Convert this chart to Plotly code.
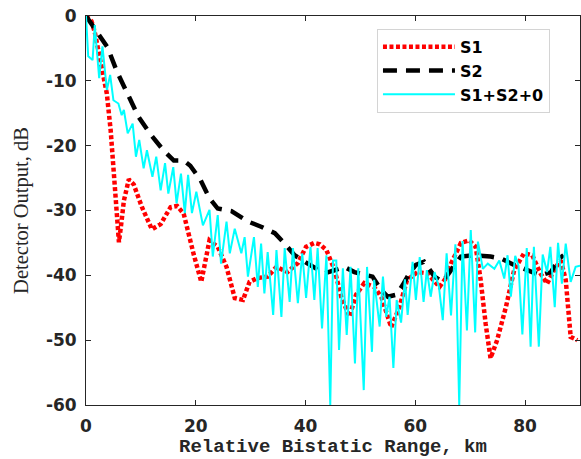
import plotly.graph_objects as go

# Relative bistatic range (km) and detector output (dB) for each signal
s1_range = [0, 1.0, 1.6, 2.4, 3.2, 3.8, 4.5, 5.1, 5.6, 6.0, 6.5, 6.9, 7.8, 8.7,
            10.2, 12.0, 13.6, 15.4, 16.6, 17.8, 19.6, 21.0, 22.5, 24.0, 25.6,
            27.1, 28.6, 29.8, 31.3, 33.1, 34.7, 36.7, 38.6, 40.1, 41.6, 42.6,
            43.8, 45.3, 46.5, 48.0, 49.2, 50.7, 52.5, 53.8, 55.6, 57.1, 58.5,
            60.4, 62.2, 64.4, 65.5, 66.5, 68.3, 69.8, 71.0, 71.9, 72.8, 73.7,
            74.9, 76.5, 78.0, 79.8, 81.3, 82.8, 84.0, 85.6, 86.5, 87.4, 88.3, 89.5]
s1_db = [0, -0.8, -2.5, -5.9, -9.0, -12.0, -17.7, -25.4, -31.0, -34.9, -31.5,
         -28.5, -25.2, -26.0, -29.5, -32.9, -32.1, -29.5, -29.3, -30.5, -36.7,
         -41.0, -34.6, -35.6, -38.7, -43.5, -43.8, -41.0, -40.4, -40.2, -38.7,
         -39.5, -38.1, -35.6, -35.0, -35.2, -36.1, -39.2, -43.3, -46.4, -43.0,
         -41.2, -41.8, -43.3, -48.0, -44.9, -40.7, -39.5, -39.7, -41.8, -40.5,
         -38.2, -35.0, -34.6, -35.6, -40.7, -47.4, -52.8, -50.0, -44.9, -39.2,
         -36.6, -36.9, -39.7, -41.3, -38.7, -37.7, -40.7, -49.5, -50.0]

s2_range = [0, 2.0, 3.9, 5.7, 7.5, 9.6, 11.7, 14.2, 16.0, 17.8, 19.0, 20.8,
            22.5, 24.0, 26.5, 29.5, 31.9, 34.4, 36.2, 38.0, 40.4, 43.5, 47.1,
            48.9, 52.2, 53.8, 55.0, 56.5, 57.7, 58.9, 60.1, 61.6, 63.5, 65.0,
            66.5, 68.3, 70.7, 73.7, 75.6, 78.0, 80.4, 82.8, 84.7, 86.2, 87.0]
s2_db = [0, -2.5, -4.8, -8.7, -12.0, -15.6, -18.2, -20.8, -22.3, -22.3, -23.1,
         -25.2, -28.1, -29.7, -30.1, -31.7, -32.5, -33.5, -35.1, -36.9, -38.2,
         -39.7, -38.7, -39.5, -40.2, -42.3, -43.3, -43.0, -41.5, -39.7, -38.4,
         -37.9, -40.2, -41.0, -39.2, -37.1, -36.9, -37.1, -37.4, -38.4, -39.2,
         -40.0, -39.5, -37.4, -36.9]

sum_range = [0, 0.4, 1.2, 1.6, 2.4, 3.0, 3.8, 4.4, 5.0, 5.9, 6.5, 6.9, 7.6, 8.5,
             9.1, 9.7, 10.5, 11.1, 12.1, 12.8, 13.6, 14.4, 15.0, 15.9, 16.5,
             17.3, 18.0, 18.6, 19.3, 20.1, 21.3, 22.5, 23.1, 24.0, 24.6, 25.6,
             26.2, 27.1, 28.3, 28.9, 29.5, 30.6, 31.3, 31.9, 32.5, 33.1, 34.1,
             34.7, 35.6, 36.2, 37.1, 37.7, 38.6, 39.4, 40.1, 40.9, 41.6, 42.2,
             43.0, 43.8, 44.5, 45.0, 45.6, 46.1, 46.8, 47.5, 48.2, 49.0, 49.6,
             50.6, 51.2, 52.1, 52.5, 53.5, 54.1, 54.7, 55.3, 56.0, 56.6, 57.4,
             58.1, 58.6, 59.5, 60.1, 60.8, 61.5, 62.1, 62.8, 63.5, 64.3, 65.0,
             65.7, 66.5, 67.3, 68.0, 68.6, 69.4, 70.1, 70.9, 71.4, 72.3, 73.2,
             74.4, 75.3, 76.2, 76.8, 77.4, 78.2, 78.8, 79.5, 80.3, 81.0, 81.6,
             82.5, 83.2, 84.0, 84.6, 85.4, 86.0, 86.7, 87.4, 88.3, 89.2, 90.0]
sum_db = [0, -6.2, -6.8, -1.4, -9.6, -4.7, -11.4, -9.1, -13.0, -13.5, -15.3,
          -14.5, -18.1, -16.6, -21.7, -19.1, -23.5, -20.7, -24.8, -21.7, -26.9,
          -22.7, -27.4, -23.3, -28.9, -24.3, -30.4, -24.5, -30.4, -27.1, -32.3,
          -29.9, -37.1, -30.7, -38.2, -31.7, -36.6, -32.8, -36.6, -34.1, -40.2,
          -34.1, -41.8, -35.1, -42.8, -36.4, -46.1, -36.1, -46.4, -35.8, -44.1,
          -35.8, -44.3, -36.6, -43.5, -35.6, -43.8, -35.8, -48.2, -36.9, -60.0,
          -37.7, -37.7, -51.5, -38.9, -49.2, -38.7, -53.6, -38.9, -57.7, -38.7,
          -51.8, -40.7, -47.9, -40.2, -46.4, -43.3, -54.3, -43.8, -47.3, -40.6,
          -46.1, -37.9, -43.8, -37.2, -44.1, -39.2, -43.3, -39.5, -41.8, -46.9,
          -36.6, -46.2, -35.2, -60.0, -34.7, -48.5, -33.0, -48.8, -34.8, -39.0,
          -38.2, -39.0, -37.7, -40.5, -36.9, -43.3, -37.0, -38.5, -49.1, -35.8,
          -51.0, -35.6, -51.0, -36.8, -39.5, -35.6, -44.9, -35.0, -41.3, -35.1,
          -41.0, -38.7, -38.5]

x_ticks = [0, 20, 40, 60, 80]
x_tick_text = ["0", "20", "40", "60", "80"]
y_ticks = [-60, -50, -40, -30, -20, -10, 0]
y_tick_text = ["-60", "-50", "-40", "-30", "-20", "-10", "0"]

ink = "#262626"
tick_font = dict(family="DejaVu Sans", size=17, color=ink, weight="bold")

fig = go.Figure()
fig.add_trace(go.Scatter(x=s1_range, y=s1_db, mode="lines", name="S1",
                         line=dict(color="#ff0000", width=4.5, dash="4px,2.5px")))
fig.add_trace(go.Scatter(x=s2_range, y=s2_db, mode="lines", name="S2",
                         line=dict(color="#000000", width=4.5, dash="14px,9px")))
fig.add_trace(go.Scatter(x=sum_range, y=sum_db, mode="lines", name="S1+S2+0",
                         line=dict(color="#00ffff", width=2)))

axis_common = dict(showline=True, linecolor=ink, linewidth=1,
                   mirror="ticks", ticks="inside", ticklen=5, tickwidth=1,
                   tickcolor=ink, showgrid=False, zeroline=False,
                   tickfont=tick_font)

fig.update_xaxes(range=[0, 90], tickvals=x_ticks, ticktext=x_tick_text,
                 ticklabelstandoff=6,
                 title=dict(text="Relative Bistatic Range, km",
                            font=dict(family="Liberation Mono", size=19,
                                      color=ink, weight="bold"),
                            standoff=2),
                 **axis_common)
fig.update_yaxes(range=[-60, 0], tickvals=y_ticks, ticktext=y_tick_text,
                 ticklabelstandoff=5,
                 title=dict(text="Detector Output, dB",
                            font=dict(family="Liberation Serif", size=20.5,
                                      color=ink),
                            standoff=11),
                 **axis_common)

fig.update_layout(
    width=581, height=459,
    margin=dict(l=86, r=1, t=16, b=54),
    paper_bgcolor="white", plot_bgcolor="white",
    legend=dict(x=0.589, y=0.967, xanchor="left", yanchor="top",
                bgcolor="white", bordercolor="#d4d4d4", borderwidth=1,
                itemwidth=72,
                font=dict(family="DejaVu Sans", size=16, color="#000000",
                          weight="bold")),
)

fig.write_html("out.html")
